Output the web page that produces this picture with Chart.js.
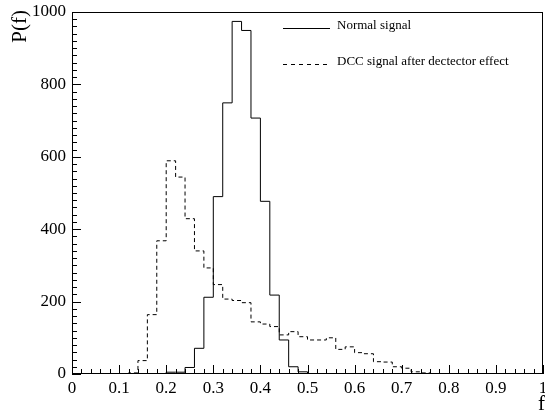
<!DOCTYPE html>
<html>
<head>
<meta charset="utf-8">
<script src="https://cdn.jsdelivr.net/npm/chart.js@4"></script>
<style>
  html, body { margin: 0; padding: 0; background: #fff; }
  #wrap { width: 545px; height: 413px; }
</style>
</head>
<body>
<div id="wrap"><canvas id="c" width="545" height="413"></canvas></div>
<script>
// bin lower edges (bin width 0.02), last entry is the upper edge of the last bin
const binEdges = [0.00, 0.02, 0.04, 0.06, 0.08, 0.10, 0.12, 0.14, 0.16, 0.18,
                  0.20, 0.22, 0.24, 0.26, 0.28, 0.30, 0.32, 0.34, 0.36, 0.38,
                  0.40, 0.42, 0.44, 0.46, 0.48, 0.50, 0.52, 0.54, 0.56, 0.58,
                  0.60, 0.62, 0.64, 0.66, 0.68, 0.70, 0.72, 0.74, 0.76, 0.78,
                  0.80, 0.82, 0.84, 0.86, 0.88, 0.90, 0.92, 0.94, 0.96, 0.98, 1.00];

const normalCounts = [0, 0, 0, 0, 0, 0, 0, 0, 0, 0,
                      5, 5, 18, 71, 212, 490, 749, 974, 949, 707,
                      477, 218, 94, 20, 6, 0, 0, 0, 0, 0,
                      0, 0, 0, 0, 0, 0, 0, 0, 0, 0,
                      0, 0, 0, 0, 0, 0, 0, 0, 0, 0];

const dccCounts = [0, 0, 0, 0, 0, 0, 3, 37, 164, 368,
                   589, 544, 429, 340, 293, 247, 207, 203, 197, 144,
                   138, 131, 108, 117, 103, 94, 94, 100, 68, 75,
                   59, 56, 34, 33, 20, 16, 6, 3, 1, 0,
                   0, 0, 0, 0, 0, 0, 0, 0, 0, 0];

const seriesNames = ["Normal signal", "DCC signal after dectector effect"];
const xTitle = "f";
const yTitle = "P(f)";

const serif = "'Liberation Serif', 'DejaVu Serif', serif";

// bin contents -> step points, the value of bin i is carried by its upper edge
function steps(counts) {
    return binEdges.map((e, i) => ({ x: e, y: i === 0 ? counts[0] : counts[i - 1] }));
}

// ROOT style frame, inward ticks, axis titles and legend
const rootFrame = {
    id: "rootFrame",
    afterDraw(chart) {
        const { ctx, chartArea: a, scales: { x, y } } = chart;
        ctx.save();
        ctx.strokeStyle = "#000";
        ctx.lineWidth = 1;
        ctx.setLineDash([]);
        ctx.strokeRect(Math.round(a.left) + 0.5, Math.round(a.top) + 0.5,
                       Math.round(a.width) - 1, Math.round(a.height) - 1);

        ctx.beginPath();
        for (let k = 0; k <= 50; k++) {
            const px = Math.round(x.getPixelForValue(k / 50)) + 0.5;
            const len = k % 5 === 0 ? 9 : 5;
            ctx.moveTo(px, a.bottom);
            ctx.lineTo(px, a.bottom - len);
        }
        for (let k = 0; k <= 50; k++) {
            const py = Math.round(y.getPixelForValue(k * 20)) + 0.5;
            const len = k % 10 === 0 ? 9 : 5;
            ctx.moveTo(a.left, py);
            ctx.lineTo(a.left + len, py);
        }
        ctx.stroke();

        // axis titles
        ctx.fillStyle = "#000";
        ctx.font = "21px " + serif;
        ctx.textAlign = "right";
        ctx.textBaseline = "alphabetic";
        ctx.fillText(xTitle, 545, 410);
        ctx.save();
        ctx.translate(26, 10);
        ctx.rotate(-Math.PI / 2);
        ctx.textAlign = "right";
        ctx.fillText(yTitle, 0, 0);
        ctx.restore();

        // legend
        const lx0 = 283, lx1 = 330, tx = 337;
        const rows = [28, 64];
        ctx.font = "13px " + serif;
        ctx.textAlign = "left";
        ctx.textBaseline = "middle";
        rows.forEach((ry, i) => {
            ctx.beginPath();
            ctx.setLineDash(i === 0 ? [] : [4, 4]);
            ctx.moveTo(lx0, ry + 0.5);
            ctx.lineTo(lx1, ry + 0.5);
            ctx.stroke();
            ctx.fillText(seriesNames[i], tx, ry - 2);
        });
        ctx.restore();
    }
};

const ctx = document.getElementById("c").getContext("2d");

new Chart(ctx, {
    type: "line",
    data: {
        datasets: [{
            label: seriesNames[0],
            data: steps(normalCounts),
            stepped: "after",
            borderColor: "#000",
            borderWidth: 1,
            pointRadius: 0,
            fill: false
        }, {
            label: seriesNames[1],
            data: steps(dccCounts),
            stepped: "after",
            borderColor: "#000",
            borderWidth: 1,
            borderDash: [4, 3],
            pointRadius: 0,
            fill: false
        }]
    },
    options: {
        responsive: false,
        animation: false,
        layout: { padding: { top: 12, right: 2, left: 0, bottom: 0 } },
        plugins: {
            legend: { display: false },
            tooltip: { enabled: false }
        },
        scales: {
            x: {
                type: "linear",
                min: 0,
                max: 1,
                grid: { drawOnChartArea: false, drawTicks: false },
                border: { display: false },
                afterFit: scale => {
                    scale.height = 39;
                    scale.paddingLeft = 0;
                    scale.paddingRight = 0;
                },
                ticks: {
                    stepSize: 0.1,
                    autoSkip: false,
                    maxRotation: 0,
                    padding: 4,
                    color: "#000",
                    font: { family: serif, size: 17 },
                    callback: v => String(+v.toFixed(1))
                }
            },
            y: {
                min: 0,
                max: 1000,
                grid: { drawOnChartArea: false, drawTicks: false },
                border: { display: false },
                afterFit: scale => {
                    scale.width = 72;
                    scale.paddingTop = 0;
                    scale.paddingBottom = 0;
                },
                ticks: {
                    stepSize: 200,
                    padding: 6,
                    color: "#000",
                    font: { family: serif, size: 17 },
                    callback: v => String(v)
                }
            }
        }
    },
    plugins: [rootFrame]
});
</script>
</body>
</html>
